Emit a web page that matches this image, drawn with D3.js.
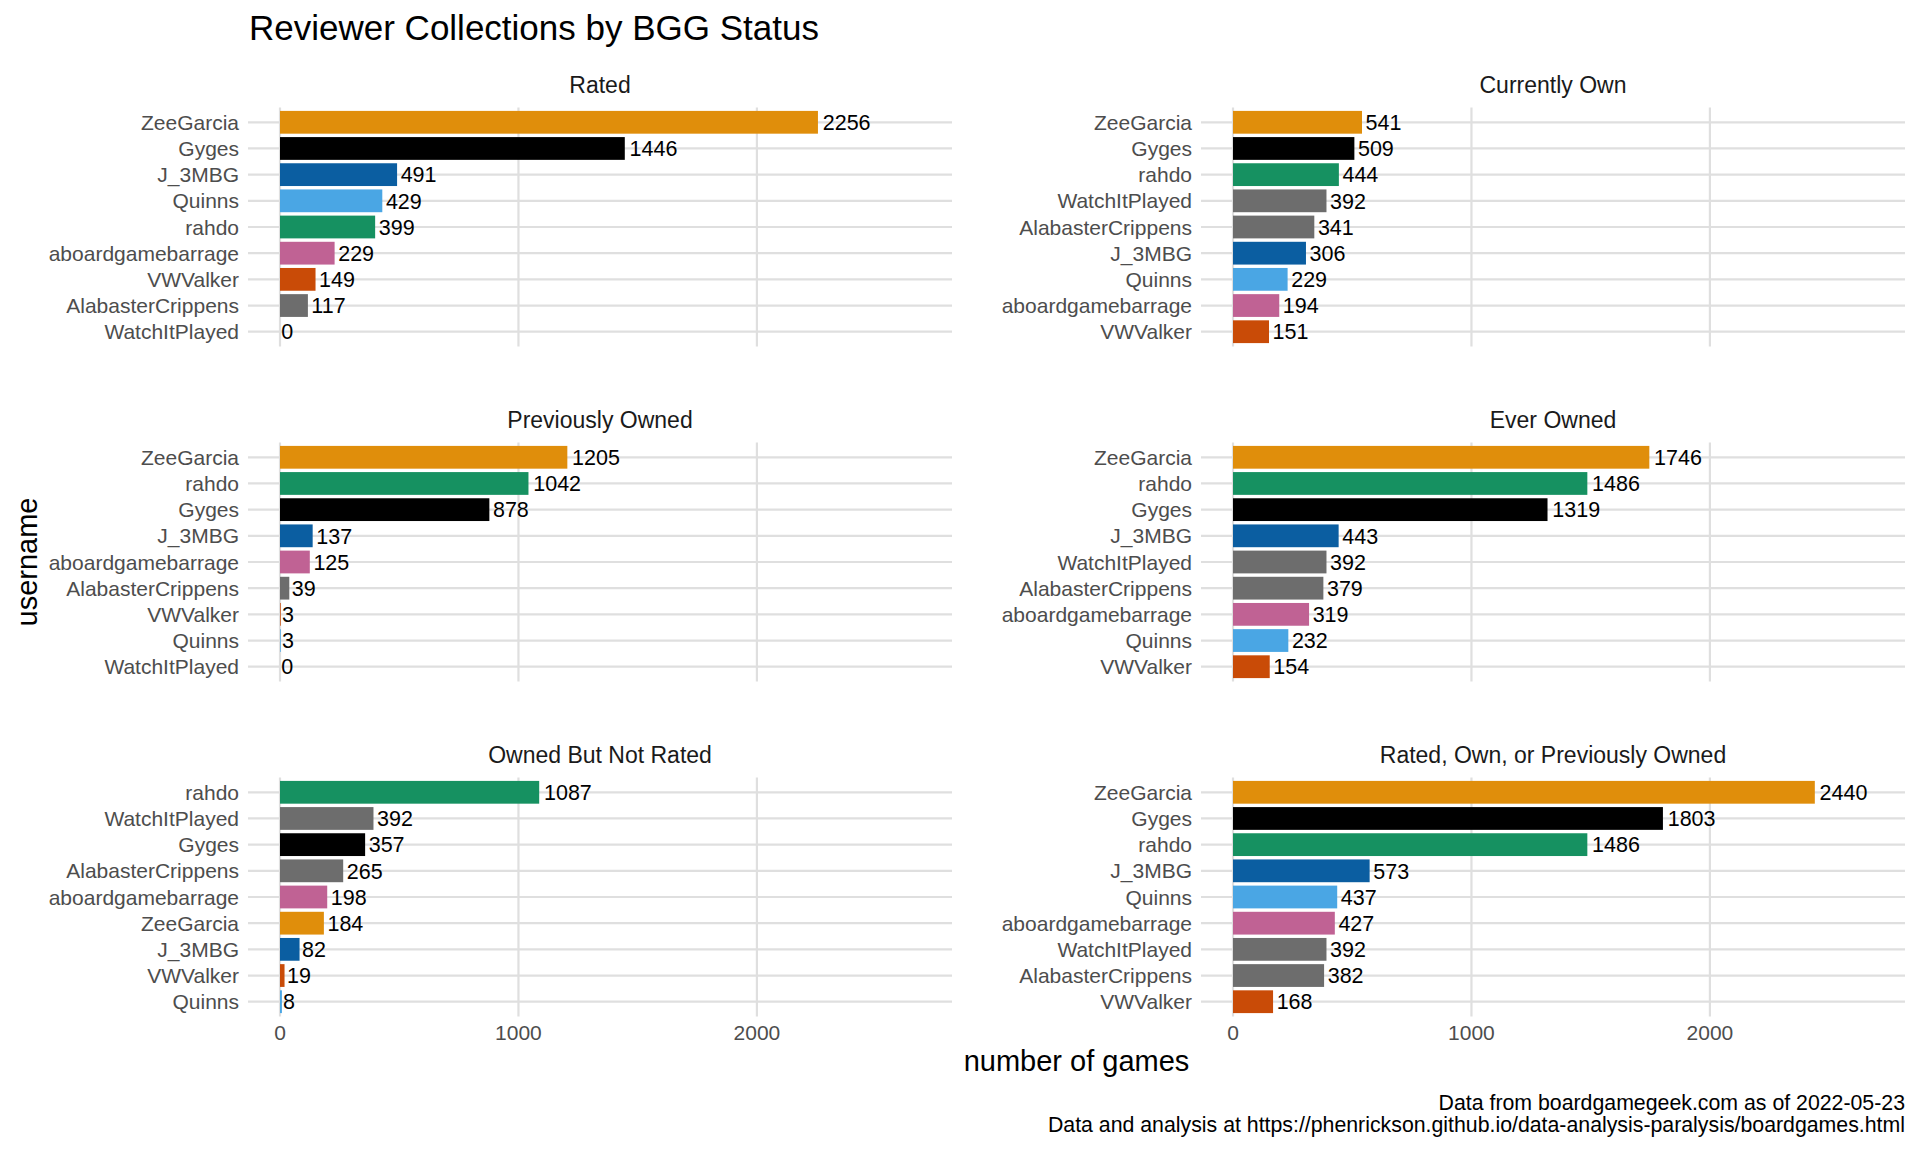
<!DOCTYPE html>
<html>
<head>
<meta charset="utf-8">
<script src="https://cdn.jsdelivr.net/npm/d3@7"></script>
<style>
    body { margin: 0; background: #fff; }
    svg { display: block; font-family: "Liberation Sans", Arial, sans-serif; }
</style>
</head>
<body>
<div id="chart"></div>
<script>
// facet titles, in wrap order (left to right, top to bottom)
const panelTitles = ["Rated", "Currently Own", "Previously Owned", "Ever Owned",
    "Owned But Not Rated", "Rated, Own, or Previously Owned"];

// each panel sorted largest first
const ratedUsers = ["ZeeGarcia", "Gyges", "J_3MBG", "Quinns", "rahdo", "aboardgamebarrage", "VWValker", "AlabasterCrippens", "WatchItPlayed"];
const ratedCounts = [2256, 1446, 491, 429, 399, 229, 149, 117, 0];

const ownUsers = ["ZeeGarcia", "Gyges", "rahdo", "WatchItPlayed", "AlabasterCrippens", "J_3MBG", "Quinns", "aboardgamebarrage", "VWValker"];
const ownCounts = [541, 509, 444, 392, 341, 306, 229, 194, 151];

const prevUsers = ["ZeeGarcia", "rahdo", "Gyges", "J_3MBG", "aboardgamebarrage", "AlabasterCrippens", "VWValker", "Quinns", "WatchItPlayed"];
const prevCounts = [1205, 1042, 878, 137, 125, 39, 3, 3, 0];

const everUsers = ["ZeeGarcia", "rahdo", "Gyges", "J_3MBG", "WatchItPlayed", "AlabasterCrippens", "aboardgamebarrage", "Quinns", "VWValker"];
const everCounts = [1746, 1486, 1319, 443, 392, 379, 319, 232, 154];

const notRatedUsers = ["rahdo", "WatchItPlayed", "Gyges", "AlabasterCrippens", "aboardgamebarrage", "ZeeGarcia", "J_3MBG", "VWValker", "Quinns"];
const notRatedCounts = [1087, 392, 357, 265, 198, 184, 82, 19, 8];

const anyUsers = ["ZeeGarcia", "Gyges", "rahdo", "J_3MBG", "Quinns", "aboardgamebarrage", "WatchItPlayed", "AlabasterCrippens", "VWValker"];
const anyCounts = [2440, 1803, 1486, 573, 437, 427, 392, 382, 168];

const xTicks = [0, 1000, 2000];

const userNames = ["ZeeGarcia", "Gyges", "J_3MBG", "Quinns", "rahdo", "aboardgamebarrage", "VWValker", "AlabasterCrippens", "WatchItPlayed"];
const userColors = ["#E08E0B", "#000000", "#0B5EA1", "#4AA6E4", "#169161", "#C06294", "#C94B07", "#6D6D6D", "#6D6D6D"];

const panelUsers = [ratedUsers, ownUsers, prevUsers, everUsers, notRatedUsers, anyUsers];
const panelCounts = [ratedCounts, ownCounts, prevCounts, everCounts, notRatedCounts, anyCounts];

const width = 1920;
const height = 1152;
const panelLefts = [248, 1201];
const panelTops = [107.5, 442.5, 777.5];
const panelW = 704;
const panelH = 239;
const gridColor = "#DFDFDF";
const axisTextColor = "#4D4D4D";

const color = d3.scaleOrdinal().domain(userNames).range(userColors);

// shared x scale (fixed facets), expanded like ggplot
const xDomainMax = d3.max(panelCounts.flat()) * 1.1;
const x0 = d3.scaleLinear()
    .domain([-xDomainMax * 0.05, xDomainMax * 1.05])
    .range([0, panelW]);

const svg = d3.select("#chart").append("svg")
    .attr("width", width)
    .attr("height", height)
    .attr("viewBox", [0, 0, width, height]);

svg.append("rect").attr("width", width).attr("height", height).attr("fill", "#fff");

panelTitles.forEach(function (title, i) {
    const col = i % 2;
    const row = Math.floor(i / 2);
    const left = panelLefts[col];
    const top = panelTops[row];
    const data = panelUsers[i].map((u, j) => ({ user: u, value: panelCounts[i][j] }));

    const y = d3.scaleBand()
        .domain(panelUsers[i])
        .range([0, panelH])
        .paddingInner(0.13)
        .paddingOuter(0.13);

    const g = svg.append("g").attr("transform", `translate(${left},${top})`);

    // grid
    g.append("g").selectAll("line")
        .data(panelUsers[i])
        .join("line")
        .attr("x1", 0)
        .attr("x2", panelW)
        .attr("y1", d => y(d) + y.bandwidth() / 2)
        .attr("y2", d => y(d) + y.bandwidth() / 2)
        .attr("stroke", gridColor)
        .attr("stroke-width", 2.2);

    g.append("g").selectAll("line")
        .data(xTicks)
        .join("line")
        .attr("x1", d => x0(d))
        .attr("x2", d => x0(d))
        .attr("y1", 0)
        .attr("y2", panelH)
        .attr("stroke", gridColor)
        .attr("stroke-width", 2.2);

    // bars
    g.append("g").selectAll("rect")
        .data(data)
        .join("rect")
        .attr("x", x0(0))
        .attr("y", d => y(d.user))
        .attr("width", d => x0(d.value) - x0(0))
        .attr("height", y.bandwidth())
        .attr("fill", d => color(d.user));

    // value labels (hjust = -0.1)
    g.append("g").selectAll("text")
        .data(data)
        .join("text")
        .attr("x", d => x0(d.value))
        .attr("y", d => y(d.user) + y.bandwidth() / 2)
        .attr("dy", "0.36em")
        .attr("font-size", 21.5)
        .attr("fill", "#000")
        .text(d => d.value)
        .attr("dx", function () { return 0.1 * this.getComputedTextLength(); });

    // y axis labels
    g.append("g").selectAll("text")
        .data(panelUsers[i])
        .join("text")
        .attr("x", -9)
        .attr("y", d => y(d) + y.bandwidth() / 2)
        .attr("dy", "0.36em")
        .attr("text-anchor", "end")
        .attr("font-size", 21)
        .attr("fill", axisTextColor)
        .text(d => d);

    // strip
    g.append("text")
        .attr("x", panelW / 2)
        .attr("y", -14.2)
        .attr("text-anchor", "middle")
        .attr("font-size", 23)
        .attr("fill", "#1A1A1A")
        .text(title);

    // x axis only on the bottom row
    if (row === 2) {
        g.append("g").selectAll("text")
            .data(xTicks)
            .join("text")
            .attr("x", d => x0(d))
            .attr("y", panelH + 23.5)
            .attr("text-anchor", "middle")
            .attr("font-size", 21)
            .attr("fill", axisTextColor)
            .text(d => d);
    }
});

svg.append("text")
    .attr("x", 249)
    .attr("y", 39.5)
    .attr("font-size", 35)
    .attr("fill", "#000")
    .text("Reviewer Collections by BGG Status");

svg.append("text")
    .attr("transform", `translate(36.5,${(panelTops[0] + panelTops[2] + panelH) / 2}) rotate(-90)`)
    .attr("text-anchor", "middle")
    .attr("font-size", 29)
    .attr("fill", "#000")
    .text("username");

svg.append("text")
    .attr("x", (panelLefts[0] + panelLefts[1] + panelW) / 2)
    .attr("y", 1070.5)
    .attr("text-anchor", "middle")
    .attr("font-size", 29)
    .attr("fill", "#000")
    .text("number of games");

const captionLines = ["Data from boardgamegeek.com as of 2022-05-23",
    "Data and analysis at https://phenrickson.github.io/data-analysis-paralysis/boardgames.html"];

svg.append("g").selectAll("text")
    .data(captionLines)
    .join("text")
    .attr("x", panelLefts[1] + panelW)
    .attr("y", (d, i) => 1110.3 + i * 21.5)
    .attr("text-anchor", "end")
    .attr("font-size", 21.3)
    .attr("fill", "#000")
    .text(d => d);
</script>
</body>
</html>
